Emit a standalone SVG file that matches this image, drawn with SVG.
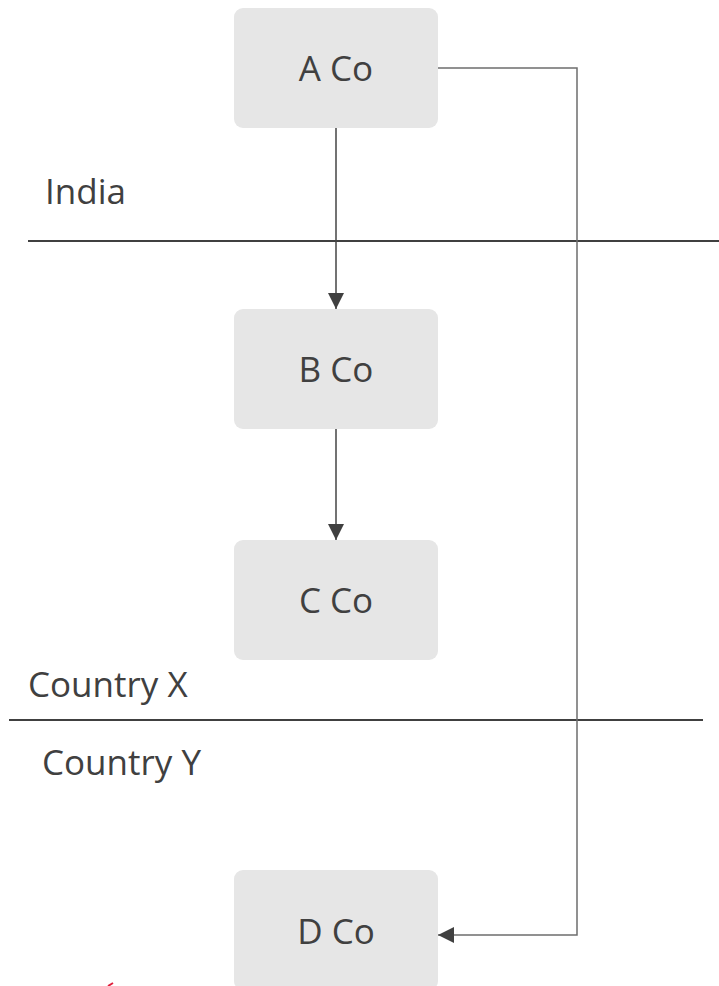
<svg xmlns="http://www.w3.org/2000/svg" width="719" height="986" viewBox="0 0 719 986">
<style>
.box{fill:#e6e6e6}
.lbl{font-family:"Open Sans","Noto Sans",sans-serif;font-size:35px;fill:#404040;text-anchor:middle}
.reg{font-family:"Open Sans","Noto Sans",sans-serif;font-size:35px;fill:#404040}
.sep{stroke:#404040;stroke-width:2;fill:none}
.con{stroke:#444;stroke-width:1.5;fill:none}
.con2{stroke:#6e6e6e;stroke-width:1.5;fill:none}
</style>
<defs>
<marker id="arr" viewBox="0 0 16 16" refX="16" refY="8" markerWidth="16" markerHeight="16" markerUnits="userSpaceOnUse" orient="auto">
<path d="M0,0 L16,8 L0,16 Z" fill="#404040"/>
</marker>
</defs>
<g id="regions">
<line class="sep" x1="28" y1="241" x2="719" y2="241"/>
<line class="sep" x1="9" y1="720" x2="703" y2="720"/>
<text class="reg" x="45" y="204">India</text>
<text class="reg" x="28" y="697">Country X</text>
<text class="reg" x="42" y="775">Country Y</text>
</g>
<g id="connectors">
<line class="con" x1="336" y1="128" x2="336" y2="309" marker-end="url(#arr)"/>
<line class="con" x1="336" y1="429" x2="336" y2="540" marker-end="url(#arr)"/>
<polyline class="con2" points="438,68 577,68 577,935 438,935" marker-end="url(#arr)"/>
</g>
<g id="node-a">
<rect class="box" x="234" y="8" width="204" height="120" rx="9"/>
<text class="lbl" x="336" y="81">A Co</text>
</g>
<g id="node-b">
<rect class="box" x="234" y="309" width="204" height="120" rx="9"/>
<text class="lbl" x="336" y="382">B Co</text>
</g>
<g id="node-c">
<rect class="box" x="234" y="540" width="204" height="120" rx="9"/>
<text class="lbl" x="336" y="613">C Co</text>
</g>
<g id="node-d">
<rect class="box" x="234" y="870" width="204" height="120" rx="9"/>
<text class="lbl" x="336" y="944">D Co</text>
</g>
<path d="M108,986 L113,983" stroke="#e0203c" stroke-width="2" fill="none"/>
</svg>
